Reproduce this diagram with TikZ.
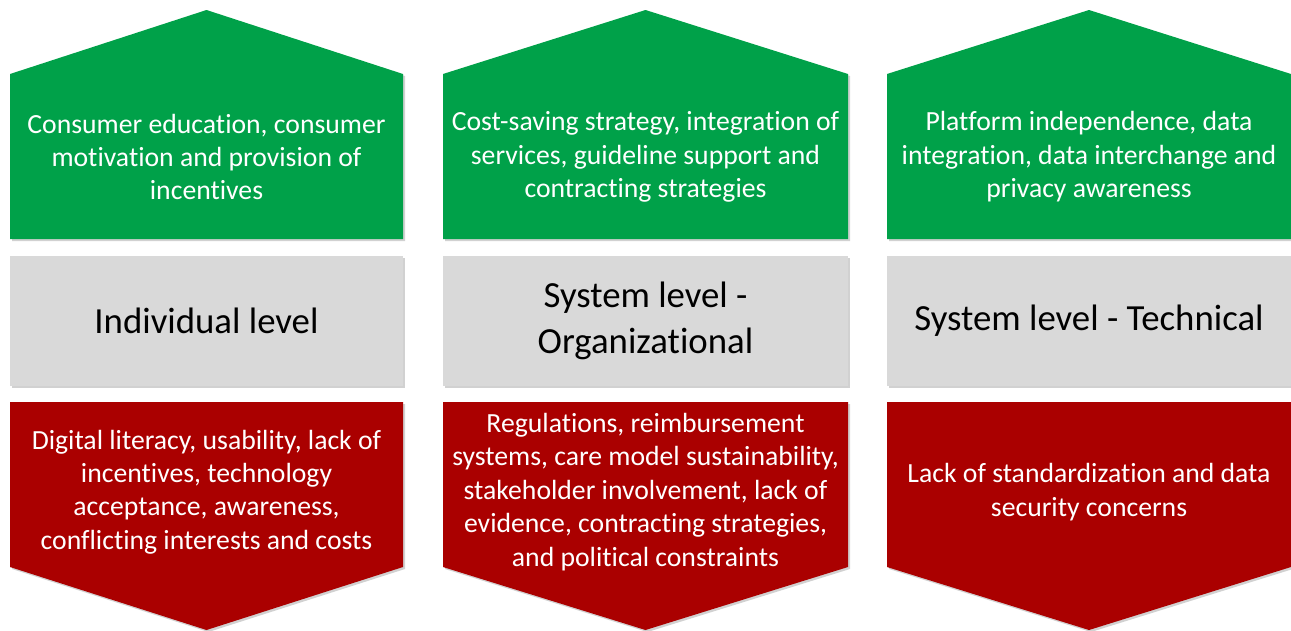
\documentclass[tikz,border=0pt]{standalone}
\usepackage{fontspec}
\setmainfont[RawFeature={-liga;-clig;-dlig;-calt}]{Carlito}
\usetikzlibrary{shadows}
\definecolor{ggreen}{RGB}{0,161,73}
\definecolor{rred}{RGB}{170,0,0}
\definecolor{lgray}{RGB}{217,217,217}
\begin{document}
\begin{tikzpicture}[x=1pt,y=-1pt,
  shade/.style={drop shadow={shadow xshift=2pt,shadow yshift=-2pt,opacity=0.18,fill=black}},
  greenshape/.style={fill=ggreen,shade},
  redshape/.style={fill=rred,shade},
  grayshape/.style={fill=lgray,shade},
  bodytext/.style={text=white,align=center,font=\fontsize{27.7}{33.4}\selectfont,inner sep=0pt},
  leveltext/.style={text=black,align=center,font=\fontsize{36.8}{45.5}\selectfont,inner sep=0pt}]
\useasboundingbox[fill=white] (0,0) rectangle (1291,630);
% column 1
\path[greenshape] (10,239) -- (10,74) -- (206.5,10) -- (403,74) -- (403,239) -- cycle;
\path[grayshape] (10,256) rectangle (403,386);
\path[redshape] (10,402) -- (403,402) -- (403,567) -- (206.5,630) -- (10,567) -- cycle;
% column 2
\path[greenshape] (443,239) -- (443,74) -- (645.5,10) -- (848,74) -- (848,239) -- cycle;
\path[grayshape] (443,256) rectangle (848,386);
\path[redshape] (443,402) -- (848,402) -- (848,567) -- (645.5,630) -- (443,567) -- cycle;
% column 3
\path[greenshape] (887,239) -- (887,74) -- (1089,10) -- (1291,74) -- (1291,239) -- cycle;
\path[grayshape] (887,256) rectangle (1291,386);
\path[redshape] (887,402) -- (1291,402) -- (1291,567) -- (1089,630) -- (887,567) -- cycle;
% texts
\node[bodytext] (g1) at (206.5,157) {Consumer education, consumer\\motivation and provision of\\incentives};
\node[leveltext] (l1) at (206.5,321) {Individual level};
\node[bodytext] (r1) at (206.5,492) {Digital literacy, usability, lack of\\incentives, technology\\acceptance, awareness,\\conflicting interests and costs};
\node[bodytext] (g2) at (645.5,157) {Cost-saving strategy, integration of\\services, guideline support and\\contracting strategies};
\node[leveltext] (l2) at (645.5,321) {System level -\\Organizational};
\node[bodytext] (r2) at (645.5,492) {Regulations, reimbursement\\systems, care model sustainability,\\stakeholder involvement, lack of\\evidence, contracting strategies,\\and political constraints};
\node[bodytext] (g3) at (1089,157) {Platform independence, data\\integration, data interchange and\\privacy awareness};
\node[leveltext] (l3) at (1089,321) {System level - Technical};
\node[bodytext] (r3) at (1089,492) {Lack of standardization and data\\security concerns};
\end{tikzpicture}
\end{document}
